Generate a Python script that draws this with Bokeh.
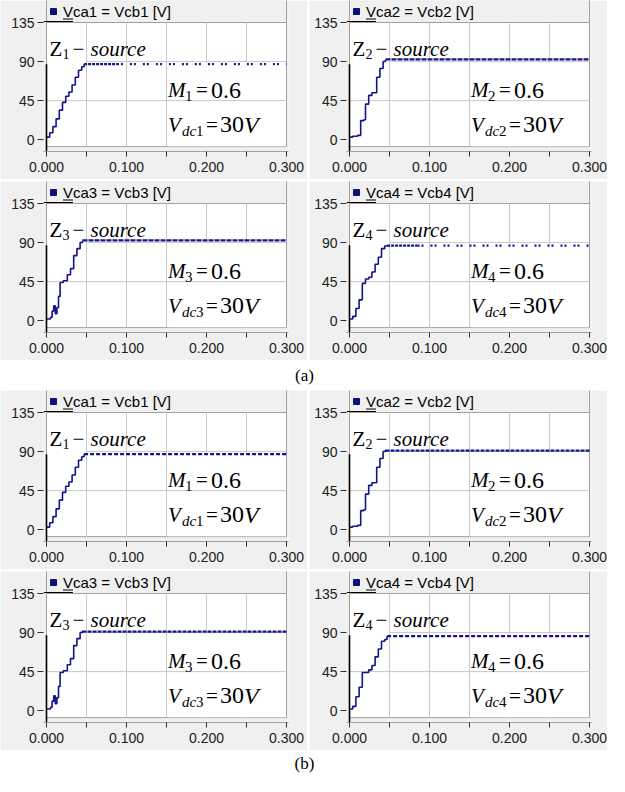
from bokeh.plotting import figure
from bokeh.layouts import column, row
from bokeh.models import FixedTicker, NumeralTickFormatter
from bokeh.core.properties import value
from bokeh.embed import file_html
from bokeh.resources import INLINE

# ---------------- data ----------------
x_ticks = [0.0, 0.1, 0.2, 0.3]
x_minor = [0.05, 0.15, 0.25]
y_ticks = [0, 45, 90, 135]
t_end = 0.3

a1_t = [0, .004, .008, .012, .016, .020, .024, .028, .032, .036, .040, .044, .047]
a1_v = [3, 8, 15, 24, 34, 43, 50, 55, 63, 72, 80, 84, 87]
a1_ss = 87
a1_dense_until = 0.088
a2_t = [0, .004, .010, .014, .018, .020, .024, .028, .034, .038, .042, .045]
a2_v = [3, 4, 5, 22, 23, 41, 51, 54, 72, 82, 90, 92]
a2_ss = 92.5
a2_dense_until = 0.3
a3_t = [0, .005, .007, .009, .011, .013, .015, .017, .021, .026, .030, .034, .038, .042, .045]
a3_v = [2, 4, 11, 17, 8, 15, 28, 44, 46, 53, 60, 75, 83, 90, 92]
a3_ss = 92.5
a3_dense_until = 0.3
a4_t = [0, .004, .008, .012, .016, .020, .024, .028, .032, .036, .040, .044, .047]
a4_v = [2, 5, 14, 24, 43, 48, 50, 56, 65, 73, 83, 86, 86.5]
a4_ss = 86.5
a4_dense_until = 0.085

b1_t = a1_t
b1_v = [3, 8, 15, 24, 34, 43, 50, 55, 63, 72, 80, 84, 87]
b1_ss = 87
b1_dense_until = 0.3
b2_t = a2_t
b2_v = [3, 4, 5, 22, 23, 41, 51, 54, 72, 82, 90, 92]
b2_ss = 91
b2_dense_until = 0.3
b3_t = a3_t
b3_v = [2, 4, 11, 17, 8, 15, 28, 44, 46, 53, 60, 75, 83, 90, 92]
b3_ss = 91
b3_dense_until = 0.3
b4_t = a4_t
b4_v = [2, 5, 16, 27, 44, 44, 47, 52, 62, 71, 80, 82, 86]
b4_ss = 86
b4_dense_until = 0.3

labels = ["Vca1 = Vcb1 [V]", "Vca2 = Vcb2 [V]", "Vca3 = Vcb3 [V]", "Vca4 = Vcb4 [V]"]
idx = ["1", "2", "3", "4"]

# ---------------- styling ----------------
NAVY = "#14148c"
BG = "#f0f0f0"
GRID = "#c8c8c8"
BORDER = "#a0a0a0"
PANEL_H = 179
FRAME_B = 28          # bottom border (x-axis area)
PX_Y = 0.868          # px per volt
TOP_135 = 22          # px from panel top to the 135 line
PX_X = 800.0          # px per second
FRAME_H = PANEL_H - FRAME_B
Y_END = 135 + TOP_135 / PX_Y
Y_START = 135 - (FRAME_H - TOP_135) / PX_Y
X_START = -3 / PX_X
X_END = 0.3 + 2 / PX_X
SERIF = value("Liberation Serif")
SANS = value("Liberation Sans")


def panel(width, left, t, v, ss, dense_until, label, k, dense, sparse):
    p = figure(width=width, height=PANEL_H, x_range=(X_START, X_END),
               y_range=(Y_START, Y_END), output_backend="svg",
               toolbar_location=None, min_border_left=left,
               min_border_right=width - left - 245, min_border_top=0,
               min_border_bottom=FRAME_B, background_fill_color=BG,
               border_fill_color=BG, outline_line_color=None)
    p.xgrid.visible = False
    p.ygrid.visible = False
    # axes
    xa = p.xaxis[0]
    xa.ticker = FixedTicker(ticks=x_ticks, minor_ticks=x_minor)
    xa.formatter = NumeralTickFormatter(format="0.000")
    xa.axis_line_color = BORDER
    xa.major_tick_out = 5
    xa.major_tick_in = 0
    xa.minor_tick_out = 5
    xa.minor_tick_in = 0
    xa.major_tick_line_color = "#303030"
    xa.minor_tick_line_color = "#303030"
    xa.major_label_standoff = 5
    xa.major_label_text_font = "Liberation Sans"
    xa.major_label_text_font_size = "14px"
    xa.major_label_text_color = "#202020"
    ya = p.yaxis[0]
    ya.ticker = FixedTicker(ticks=y_ticks, minor_ticks=[])
    ya.axis_line_color = None
    ya.major_tick_out = 6
    ya.major_tick_in = 0
    ya.major_tick_line_color = "#303030"
    ya.major_label_standoff = 3
    ya.major_label_text_font = "Liberation Sans"
    ya.major_label_text_font_size = "14px"
    ya.major_label_text_color = "#202020"

    # header box
    p.quad(left=0, right=0.3, bottom=135, top=Y_END + 5, fill_color=BG,
           line_color=BORDER, line_width=1)
    # white plot area
    p.quad(left=0, right=0.3, bottom=-8, top=135, fill_color="white",
           line_color=BORDER, line_width=1)
    # grid
    gx = [x for x in sorted(x_ticks + x_minor) if 0 < x < 0.3]
    p.segment(x0=gx, y0=[-8] * len(gx), x1=gx, y1=[135] * len(gx),
              line_color=GRID, line_width=1)
    gy = [y for y in y_ticks if 0 < y < 135]
    p.segment(x0=[0] * len(gy), y0=gy, x1=[0.3] * len(gy), y1=gy,
              line_color=GRID, line_width=1)
    # white backgrounds of the pasted equations
    p.quad(left=0.0008, right=0.0495, bottom=88.5, top=134.3,
           fill_color="white", line_color=None)
    p.quad(left=0.152, right=0.2992, bottom=-7.6, top=88.5,
           fill_color="white", line_color=None)
    p.segment(x0=[0.152], y0=[45], x1=[0.3], y1=[45], line_color=GRID,
              line_width=1)

    # signal: staircase rise, then the dotted steady state
    p.step(t, v, mode="after", line_color=NAVY, line_width=1.6)
    p.line([t[-1], dense_until], [ss, ss], line_color=NAVY, line_width=2.2,
           line_dash=dense)
    if dense_until < t_end:
        p.line([dense_until, t_end], [ss, ss], line_color=NAVY,
               line_width=2.2, line_dash=sparse)
    # cursor
    p.segment(x0=[0], y0=[87], x1=[0], y1=[Y_START], line_color="black",
              line_width=1.6)
    # black line near the 135 label
    p.segment(x0=[X_START], y0=[135 + 1 / PX_Y], x1=[0.033],
              y1=[135 + 1 / PX_Y], line_color="black", line_width=1.2)

    # header legend
    hy = 135 + (TOP_135 - 11) / PX_Y
    p.scatter([7 / PX_X], [hy], marker="square", size=6, fill_color="#10107a",
              line_color="#10107a")
    p.text([16.5 / PX_X], [hy], text=[label], text_font=SANS,
           text_font_size="15px", text_baseline="middle", text_align="left",
           text_color="black")
    p.segment(x0=[16.5 / PX_X], y0=[hy - 7.5 / PX_Y], x1=[26.5 / PX_X],
              y1=[hy - 7.5 / PX_Y], line_color="black", line_width=1)

    # equations
    def piece(x, y, s, dx, dy, size, style):
        p.text([x], [y], text=[s], x_offset=dx, y_offset=dy,
               text_font=SERIF, text_font_size=size, text_font_style=style,
               text_baseline="alphabetic", text_align="left",
               text_color="black")

    zx, zy = 3 / PX_X, 104
    piece(zx, zy, "Z", 0, 0, "21px", "normal")
    piece(zx, zy, k, 13, 5, "14px", "normal")
    piece(zx, zy, "\u2212", 23, 0, "21px", "normal")
    piece(zx, zy, "source", 41, 0, "21px", "italic")
    mx, my = 0.152, 57
    piece(mx, my, "M", 0, 0, "21px", "italic")
    piece(mx, my, k, 17, 6, "15px", "normal")
    piece(mx, my, "=", 28, 0, "21px", "normal")
    piece(mx, my, "0.6", 43, 0, "24px", "normal")
    vx, vy = 0.152, 17
    piece(vx, vy, "V", 0, 0, "21px", "italic")
    piece(vx, vy, "dc", 14, 6, "15px", "italic")
    piece(vx, vy, k, 28, 6, "15px", "normal")
    piece(vx, vy, "=", 38, 0, "21px", "normal")
    piece(vx, vy, "30", 52, 0, "24px", "normal")
    piece(vx, vy, "V", 76, 0, "24px", "italic")
    return p


def caption(txt, h):
    c = figure(width=607, height=h, x_range=(0, 607), y_range=(0, h),
               output_backend="svg", toolbar_location=None, min_border=0,
               outline_line_color=None, background_fill_color="white",
               border_fill_color="white")
    c.axis.visible = False
    c.grid.visible = False
    c.text([304], [h / 2], text=[txt], text_font=SERIF, text_font_size="17px",
           text_align="center", text_baseline="middle", text_color="black")
    return c


LW, LL = 307, 43
RW, RL = 298, 37
pa = [panel(LW, LL, a1_t, a1_v, a1_ss, a1_dense_until, labels[0], idx[0], "3 1", "2 2 2 7"),
      panel(RW, RL, a2_t, a2_v, a2_ss, a2_dense_until, labels[1], idx[1], "5 1", "5 1"),
      panel(LW, LL, a3_t, a3_v, a3_ss, a3_dense_until, labels[2], idx[2], "5 1", "5 1"),
      panel(RW, RL, a4_t, a4_v, a4_ss, a4_dense_until, labels[3], idx[3], "3 1", "2 2 2 7")]
pb = [panel(LW, LL, b1_t, b1_v, b1_ss, b1_dense_until, labels[0], idx[0], "4 2", "4 2"),
      panel(RW, RL, b2_t, b2_v, b2_ss, b2_dense_until, labels[1], idx[1], "4 1", "4 1"),
      panel(LW, LL, b3_t, b3_v, b3_ss, b3_dense_until, labels[2], idx[2], "4 1", "4 1"),
      panel(RW, RL, b4_t, b4_v, b4_ss, b4_dense_until, labels[3], idx[3], "4 2", "4 2")]

layout = column(
    column(row(pa[0], pa[1], spacing=2), row(pa[2], pa[3], spacing=2), spacing=2),
    caption("(a)", 30),
    column(row(pb[0], pb[1], spacing=2), row(pb[2], pb[3], spacing=2), spacing=2),
    caption("(b)", 26),
)

open("out.html", "w").write(file_html(layout, INLINE))
